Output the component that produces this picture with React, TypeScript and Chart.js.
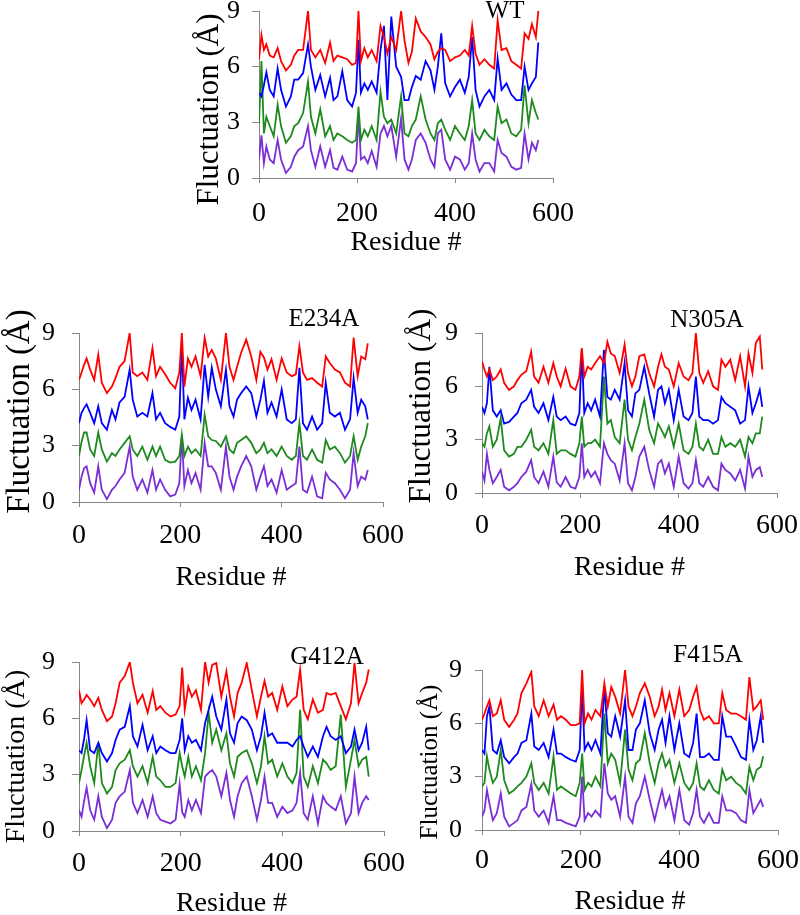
import React, { useEffect, useRef } from "react";
import { Chart, registerables } from "chart.js";

Chart.register(...registerables);

// Residue numbers shared by every panel (x values)
const residues = [
  0, 5, 10, 15, 22, 30, 38, 45, 55, 65,
  72, 80, 90, 100, 106, 115, 125, 135, 145, 152,
  160, 170, 180, 190, 198, 203, 208, 215, 222, 230,
  240, 248, 255, 262, 270, 280, 290, 297, 305, 312,
  320, 330, 340, 350, 358, 365, 372, 380, 390, 400,
  410, 420, 428, 435, 442, 450, 460, 470, 480, 487,
  495, 505, 515, 525, 535, 542, 550, 557, 565, 570,
];

const xTicks = [0, 200, 400, 600];
const yTicks = [0, 3, 6, 9];

// ---------- WT ----------
const wtRed = [
  6.4, 7.7, 6.9, 7.2, 6.6, 6.5, 7.0, 6.3, 5.8, 6.1,
  6.6, 6.9, 6.9, 9.0, 6.9, 6.5, 6.9, 6.2, 7.3, 6.3,
  6.6, 6.5, 6.4, 6.1, 6.2, 9.0, 6.3, 7.0, 6.5, 6.9,
  6.3, 8.2, 7.6, 6.7, 7.6, 6.9, 9.0, 7.4, 6.2, 6.8,
  8.6, 7.9, 7.6, 7.2, 6.4, 6.8, 7.0, 6.9, 6.3, 6.5,
  6.6, 6.9, 6.6, 8.2, 6.7, 6.1, 6.4, 6.1, 5.9, 8.5,
  6.9, 7.0, 6.3, 6.1, 5.9, 7.8, 7.5, 8.3, 7.6, 9.0,
];
const wtBlue = [
  4.6, 4.4, 5.0, 5.7, 4.75, 4.4, 5.9, 4.75, 3.85, 4.4,
  5.3, 5.3, 5.65, 7.2, 6.0, 4.75, 5.55, 4.4, 5.4, 4.2,
  4.4, 5.75, 4.2, 3.85, 4.6, 7.45, 4.6, 5.1, 4.75, 5.2,
  4.6, 6.9, 8.2, 4.2, 8.7, 6.0, 5.45, 4.2, 4.2, 4.9,
  5.5, 5.3, 6.3, 5.8, 4.75, 6.0, 7.8, 5.1, 4.4, 4.9,
  5.3, 4.6, 5.45, 7.6, 4.75, 3.85, 4.4, 4.75, 4.2, 6.45,
  4.75, 5.1, 4.5, 4.2, 4.2, 6.0, 4.75, 5.1, 5.45, 7.3,
];
const wtGreen = [
  2.95, 6.3, 2.4, 3.3, 2.8, 2.25, 3.95, 2.8, 1.9, 2.25,
  2.8, 2.95, 3.5, 5.2, 3.3, 2.4, 3.7, 2.25, 2.8, 2.05,
  2.4, 2.25, 2.05, 1.9, 2.05, 3.85, 2.05, 2.6, 2.25, 2.8,
  2.05, 4.65, 3.3, 2.95, 3.15, 2.4, 4.4, 2.4, 2.25, 2.8,
  3.15, 4.4, 3.15, 2.4, 2.05, 2.95, 3.15, 2.6, 2.05, 2.8,
  2.4, 2.05, 2.8, 4.2, 2.4, 2.05, 2.6, 2.25, 2.05, 3.85,
  2.95, 3.15, 2.4, 2.25, 2.6, 5.0, 2.95, 4.2, 3.5, 3.15,
];
const wtPurple = [
  1.0, 2.3, 0.8, 1.7, 1.0, 0.8, 2.05, 1.0, 0.27, 0.6,
  1.15, 1.5, 1.7, 2.8, 1.5, 0.6, 1.7, 0.6, 1.5, 0.55,
  0.45, 1.15, 0.45, 0.35, 0.8, 3.4, 1.0, 1.15, 0.8, 1.45,
  0.6, 2.4, 2.8, 2.25, 2.8, 1.15, 3.2, 1.0, 0.45, 1.0,
  2.05, 2.4, 1.9, 1.0, 0.6, 2.4, 2.6, 1.0, 0.45, 1.15,
  1.0, 0.45, 0.8, 2.4, 1.0, 0.35, 0.8, 0.8, 0.35, 2.05,
  1.35, 1.15, 0.6, 0.45, 0.55, 2.4, 1.0, 1.9, 1.5, 2.05,
];

// ---------- E234A ----------
const e234aRed = [
  6.5, 6.9, 7.3, 7.65, 7.05, 6.5, 7.85, 6.35, 5.8, 6.15,
  6.6, 7.2, 7.5, 9.0, 6.9, 6.7, 6.9, 6.5, 8.2, 6.7,
  7.2, 6.8, 6.35, 6.05, 6.9, 9.0, 6.15, 7.65, 7.2, 7.75,
  6.7, 8.75, 7.75, 8.1, 7.65, 6.5, 9.0, 7.2, 6.5, 7.2,
  7.95, 8.65, 7.75, 6.5, 8.0, 7.7, 7.05, 7.6, 6.5, 7.65,
  6.9, 6.7, 6.8, 8.3, 6.9, 6.5, 6.6, 6.35, 6.15, 7.75,
  7.4, 7.05, 6.9, 6.35, 6.15, 8.75, 6.7, 7.75, 7.6, 8.45,
];
const e234aBlue = [
  4.2, 4.75, 5.0, 5.2, 4.75, 4.2, 5.1, 4.2, 3.85, 4.9,
  4.4, 5.3, 5.6, 7.05, 5.45, 4.55, 4.75, 4.55, 5.8, 4.4,
  4.75, 4.2, 4.0, 3.85, 4.55, 8.4, 4.4, 5.55, 4.9, 5.45,
  4.4, 7.3, 5.6, 7.15, 6.0, 5.1, 7.05, 5.1, 4.55, 5.45,
  5.8, 6.15, 5.8, 4.55, 5.45, 6.45, 4.75, 5.3, 4.55, 6.0,
  4.4, 4.2, 4.4, 7.15, 4.2, 3.85, 4.55, 3.85, 4.2, 6.35,
  4.75, 4.55, 4.75, 3.85, 4.4, 6.6, 4.75, 5.45, 5.1, 4.4,
];
const e234aGreen = [
  2.45, 3.2, 3.7, 3.7, 2.8, 2.45, 3.7, 2.8, 2.15, 2.6,
  2.45, 2.8, 3.15, 3.5, 2.8, 2.45, 2.95, 2.25, 2.95, 2.45,
  2.95, 2.25, 2.1, 2.15, 2.45, 3.6, 2.45, 2.95, 2.6, 2.8,
  2.45, 4.65, 3.5, 3.3, 3.25, 2.95, 3.5, 2.8, 2.6, 3.15,
  3.3, 3.5, 3.15, 2.6, 2.8, 3.15, 2.6, 2.8, 2.45, 2.95,
  2.45, 2.25, 2.45, 4.2, 2.45, 2.25, 2.8, 2.25, 2.1, 3.3,
  2.8, 2.95, 2.6, 2.1, 2.45, 3.5, 2.25, 2.95, 3.5, 4.2,
];
const e234aPurple = [
  0.65, 1.35, 1.8, 1.9, 1.0, 0.5, 1.9, 0.65, 0.15, 0.65,
  0.85, 1.2, 1.55, 2.95, 1.35, 0.65, 1.2, 0.5, 1.7, 0.65,
  1.2, 0.65, 0.3, 0.4, 1.0, 3.5, 0.85, 1.7, 1.0, 1.55,
  0.65, 3.15, 1.9, 1.9, 1.55, 0.65, 2.95, 1.35, 0.65, 1.35,
  1.9, 2.45, 1.9, 0.65, 1.35, 1.9, 0.85, 1.2, 0.5, 1.7,
  0.65, 0.85, 1.0, 2.95, 0.65, 0.5, 1.35, 0.3, 0.2, 1.55,
  1.2, 1.0, 0.65, 0.2, 0.65, 2.6, 0.85, 1.35, 1.2, 1.7,
];

// ---------- N305A ----------
const n305aRed = [
  7.4, 6.95, 6.55, 6.95, 6.35, 6.55, 6.95, 6.2, 5.8, 6.0,
  6.35, 6.65, 6.85, 7.95, 6.55, 6.2, 7.1, 6.2, 7.3, 6.55,
  6.0, 7.0, 6.0, 5.8, 6.55, 8.15, 6.55, 7.1, 6.95, 7.3,
  7.7, 7.3, 8.5, 7.85, 7.7, 6.75, 8.35, 6.75, 6.0, 6.55,
  7.7, 7.8, 6.75, 6.0, 7.1, 7.8, 7.1, 6.95, 6.0, 7.3,
  6.55, 6.35, 6.75, 9.0, 6.75, 6.2, 6.85, 6.0, 5.8, 7.5,
  7.1, 7.5, 6.35, 7.7, 6.0, 7.85, 6.75, 8.45, 8.8, 6.95,
];
const n305aBlue = [
  4.85, 4.5, 5.05, 7.1, 4.65, 4.3, 4.65, 3.9, 4.0, 4.3,
  4.5, 5.05, 5.25, 5.8, 4.85, 4.5, 5.05, 4.1, 5.4, 4.3,
  4.1, 4.3, 3.9, 3.8, 4.5, 8.05, 4.5, 5.05, 4.65, 5.25,
  4.3, 8.05, 5.4, 5.25, 5.8, 5.25, 7.3, 4.65, 4.3, 5.6,
  5.8, 7.1, 5.6, 4.3, 5.8, 6.0, 5.05, 5.8, 4.1, 5.8,
  4.3, 4.1, 4.5, 6.55, 4.3, 4.1, 4.1, 3.9, 4.1, 5.4,
  5.05, 4.85, 4.65, 3.9, 4.1, 6.0, 4.5, 5.05, 5.8, 4.85,
];
const n305aGreen = [
  2.8, 2.6, 3.35, 3.75, 2.6, 3.0, 4.2, 2.4, 2.05, 2.2,
  2.6, 2.6, 3.0, 3.55, 2.6, 2.4, 2.8, 2.2, 4.1, 2.2,
  2.4, 2.4, 2.2, 2.05, 2.8, 4.3, 2.6, 2.8, 2.8, 3.0,
  2.6, 6.55, 3.9, 4.1, 3.15, 2.8, 5.25, 3.0, 2.4, 3.15,
  3.9, 5.25, 3.55, 2.8, 3.9, 3.55, 3.15, 3.75, 2.6, 3.9,
  2.4, 2.2, 2.6, 3.9, 2.6, 2.4, 3.0, 2.2, 2.2, 3.15,
  2.6, 2.8, 2.6, 3.0, 2.05, 3.15, 2.8, 3.35, 3.35, 4.3,
];
const n305aPurple = [
  1.2, 0.7, 2.2, 1.3, 0.55, 0.9, 1.3, 0.35, 0.15, 0.35,
  0.55, 0.9, 1.2, 1.85, 0.9, 0.55, 1.2, 0.35, 2.05, 0.6,
  0.35, 0.9, 0.35, 0.25, 0.9, 2.8, 0.9, 1.3, 0.9, 1.2,
  0.55, 2.8, 2.2, 1.85, 1.65, 0.7, 2.8, 0.55, 0.15, 0.9,
  2.05, 2.6, 1.3, 0.35, 1.65, 1.85, 1.1, 1.65, 0.35, 2.05,
  0.55, 0.25, 0.55, 1.85, 0.55, 0.35, 0.9, 0.35, 0.15, 1.65,
  1.3, 1.1, 0.7, 1.3, 0.25, 2.05, 0.9, 1.3, 1.45, 0.9,
];

// ---------- G412A ----------
const g412aRed = [
  7.5, 6.8, 7.0, 7.25, 7.0, 6.65, 7.1, 6.45, 5.85, 6.1,
  6.8, 7.9, 8.25, 9.0, 7.9, 6.8, 7.25, 6.3, 7.45, 6.45,
  6.65, 6.3, 6.1, 6.2, 6.65, 8.7, 6.45, 7.7, 7.15, 7.5,
  6.45, 9.0, 7.9, 8.85, 8.95, 7.15, 8.5, 7.15, 6.1, 7.35,
  7.9, 8.95, 7.5, 6.1, 7.15, 8.0, 7.15, 7.35, 6.45, 7.7,
  6.65, 7.0, 7.15, 8.6, 6.45, 5.95, 7.0, 6.3, 6.45, 7.35,
  7.25, 7.35, 6.65, 5.95, 6.8, 8.95, 6.8, 7.35, 7.9, 8.6,
];
const g412aBlue = [
  4.3, 4.15, 4.9, 5.9, 4.3, 4.15, 4.7, 4.15, 3.7, 4.15,
  4.85, 5.4, 5.55, 6.65, 5.05, 4.5, 5.65, 4.3, 5.05, 4.15,
  4.5, 4.3, 4.15, 4.15, 4.85, 6.0, 4.3, 5.05, 4.7, 4.85,
  4.3, 5.75, 6.45, 7.15, 6.1, 5.4, 7.0, 5.2, 4.7, 5.75,
  6.1, 5.9, 5.4, 4.3, 5.05, 6.3, 5.05, 5.2, 4.7, 4.7,
  4.7, 4.5, 4.85, 5.05, 4.5, 3.95, 4.5, 3.95, 5.05, 5.55,
  5.05, 4.85, 5.05, 4.15, 4.5, 5.4, 4.3, 4.7, 5.55, 4.3,
];
const g412aGreen = [
  2.55, 3.25, 4.0, 4.7, 3.45, 2.55, 4.7, 2.55, 2.0, 2.35,
  3.25, 3.6, 3.8, 4.3, 3.45, 2.9, 3.45, 2.55, 3.95, 2.9,
  2.7, 2.35, 2.35, 2.55, 4.15, 3.45, 2.9, 3.95, 2.9, 3.45,
  2.7, 4.15, 6.3, 4.7, 5.4, 4.3, 5.2, 3.6, 2.9, 3.95,
  4.15, 4.3, 3.6, 2.55, 3.45, 5.05, 3.6, 3.8, 2.9, 3.6,
  2.9, 2.55, 3.1, 6.45, 2.9, 2.35, 3.45, 2.55, 3.8, 3.6,
  3.25, 3.45, 6.2, 2.35, 3.8, 4.85, 3.45, 3.8, 3.95, 2.9,
];
const g412aPurple = [
  1.1, 0.75, 1.6, 2.3, 1.1, 0.6, 1.85, 0.75, 0.15, 0.6,
  1.5, 1.85, 2.1, 3.25, 1.5, 0.95, 1.65, 0.75, 1.85, 0.95,
  0.6, 0.5, 0.4, 0.6, 2.5, 1.0, 0.75, 1.65, 1.1, 1.65,
  0.95, 2.9, 3.1, 3.25, 2.9, 1.85, 3.1, 1.65, 0.75, 1.85,
  2.55, 2.9, 1.85, 0.6, 1.65, 2.9, 1.5, 1.5, 0.75, 1.3,
  0.95, 1.1, 1.5, 3.1, 0.95, 0.6, 1.85, 0.4, 1.85, 1.5,
  1.3, 1.1, 1.85, 0.4, 0.95, 2.9, 0.95, 1.5, 1.85, 1.65,
];

// ---------- F415A ----------
const f415aRed = [
  6.2, 6.55, 6.95, 7.3, 6.4, 6.55, 7.3, 6.2, 5.8, 6.2,
  6.55, 7.7, 8.25, 8.9, 6.95, 6.4, 7.3, 6.4, 7.05, 6.2,
  6.4, 6.2, 5.9, 5.9, 6.0, 9.0, 6.0, 6.55, 6.2, 6.75,
  6.4, 8.25, 6.95, 8.05, 7.5, 6.55, 9.0, 6.95, 6.4, 6.95,
  7.7, 8.25, 7.5, 6.4, 6.95, 7.9, 6.75, 7.7, 6.4, 7.9,
  6.4, 6.75, 7.5, 8.05, 6.75, 6.2, 6.4, 6.0, 6.0, 7.7,
  6.75, 6.55, 6.55, 6.4, 6.2, 8.6, 6.75, 6.95, 7.3, 6.2,
];
const f415aBlue = [
  4.5, 4.3, 6.4, 6.95, 4.5, 4.3, 5.05, 4.1, 3.75, 4.1,
  4.3, 4.9, 5.05, 6.55, 4.7, 4.5, 4.9, 4.1, 5.65, 4.3,
  4.3, 4.1, 3.95, 3.85, 4.5, 7.95, 4.5, 4.9, 4.5, 5.05,
  4.3, 8.05, 5.45, 5.25, 6.4, 5.25, 7.3, 4.5, 4.5, 5.65,
  6.0, 7.3, 5.45, 4.5, 5.65, 6.2, 4.9, 6.4, 4.5, 6.0,
  4.3, 4.1, 4.9, 6.55, 4.1, 4.1, 4.3, 3.95, 3.95, 6.4,
  5.25, 5.25, 4.7, 4.1, 3.95, 6.2, 4.5, 5.05, 6.4, 4.9,
];
const f415aGreen = [
  2.45, 2.65, 4.15, 3.4, 2.65, 3.0, 4.5, 2.8, 2.05, 2.25,
  2.45, 2.65, 3.0, 3.75, 2.65, 2.25, 2.65, 2.05, 4.15, 2.25,
  2.45, 2.25, 2.05, 1.9, 2.65, 4.3, 2.25, 2.65, 2.45, 3.0,
  2.45, 6.55, 3.75, 4.3, 3.95, 2.65, 5.65, 3.4, 2.8, 3.75,
  3.95, 5.45, 3.75, 2.65, 3.75, 4.3, 3.55, 3.95, 2.65, 3.75,
  2.65, 2.25, 2.65, 3.75, 2.45, 2.25, 2.8, 2.25, 2.05, 3.4,
  2.8, 3.0, 2.65, 2.45, 2.05, 3.55, 2.8, 3.4, 3.55, 4.15,
];
const f415aPurple = [
  0.75, 1.1, 2.25, 1.5, 0.55, 0.95, 2.05, 0.75, 0.2, 0.4,
  0.55, 1.1, 1.3, 2.6, 1.1, 0.75, 1.1, 0.4, 1.9, 0.55,
  0.55, 0.4, 0.3, 0.2, 0.75, 3.0, 0.55, 0.95, 0.75, 1.1,
  0.75, 3.75, 2.05, 1.7, 1.9, 0.75, 3.0, 0.75, 0.4, 1.5,
  1.9, 3.0, 1.7, 0.55, 1.5, 2.25, 1.3, 1.9, 0.55, 2.25,
  0.55, 0.3, 0.95, 2.25, 0.75, 0.4, 0.95, 0.4, 0.4, 1.9,
  1.1, 1.1, 0.95, 0.55, 0.4, 2.25, 0.95, 1.3, 1.7, 1.3,
];

const seriesColors = ["#ff0000", "#0000ff", "#1e8a1e", "#7a2fd6"];
const FONT = '"Liberation Serif", "Times New Roman", serif';
const AXIS = "#878787";

type PanelCfg = {
  name: string;
  series: number[][];
  axisLeft: number;
  axisRight: number;
  plotTop: number;
  plotBottom: number;
  canvasLeft: number;
  xTitleH: number;
  xTickPad: number;
  yTickPad: number;
  yTitleDx: number;
  yTitleDy: number;
  yTitleSize: number;
  titleDx: number;
  titleDy: number;
};

const TOP_PAD = 40;
const RIGHT_PAD = 30;

const panels: PanelCfg[] = [
  {
    name: "WT", series: [wtRed, wtBlue, wtGreen, wtPurple],
    axisLeft: 259, axisRight: 558, plotTop: 11, plotBottom: 178, canvasLeft: 190,
    xTitleH: 81, xTickPad: 14, yTickPad: 12, yTitleDx: 49, yTitleDy: 15, yTitleSize: 31,
    titleDx: 246, titleDy: 0,
  },
  {
    name: "E234A", series: [e234aRed, e234aBlue, e234aGreen, e234aPurple],
    axisLeft: 79, axisRight: 386, plotTop: 333, plotBottom: 502, canvasLeft: 0,
    xTitleH: 92, xTickPad: 12, yTickPad: 17, yTitleDx: 59, yTitleDy: -6, yTitleSize: 33,
    titleDx: 245, titleDy: -14,
  },
  {
    name: "N305A", series: [n305aRed, n305aBlue, n305aGreen, n305aPurple],
    axisLeft: 482, axisRight: 779, plotTop: 333, plotBottom: 493, canvasLeft: 400,
    xTitleH: 91, xTickPad: 11, yTickPad: 17, yTitleDx: 60, yTitleDy: -7, yTitleSize: 31.5,
    titleDx: 225, titleDy: -13,
  },
  {
    name: "G412A", series: [g412aRed, g412aBlue, g412aGreen, g412aPurple],
    axisLeft: 79, axisRight: 386, plotTop: 662, plotBottom: 831, canvasLeft: 0,
    xTitleH: 89, xTickPad: 11, yTickPad: 17, yTitleDx: 62, yTitleDy: 10, yTitleSize: 28,
    titleDx: 248, titleDy: -5,
  },
  {
    name: "F415A", series: [f415aRed, f415aBlue, f415aGreen, f415aPurple],
    axisLeft: 482, axisRight: 778, plotTop: 670, plotBottom: 830, canvasLeft: 400,
    xTitleH: 88, xTickPad: 9, yTickPad: 13, yTitleDx: 52, yTitleDy: 12, yTitleSize: 25,
    titleDx: 226, titleDy: -15,
  },
];

function Panel({ cfg }: { cfg: PanelCfg }) {
  const ref = useRef<HTMLCanvasElement | null>(null);
  const width = cfg.axisRight - cfg.canvasLeft + RIGHT_PAD;
  const height = TOP_PAD + (cfg.plotBottom - cfg.plotTop) + cfg.xTitleH;
  const yAxisW = cfg.axisLeft - cfg.canvasLeft;

  useEffect(() => {
    if (!ref.current) return;
    const overlay = {
      id: "overlay_" + cfg.name,
      afterDraw(chart: any) {
        const { ctx, chartArea } = chart;
        ctx.save();
        ctx.fillStyle = "#000";
        // panel title
        ctx.font = `25px ${FONT}`;
        ctx.textAlign = "center";
        ctx.textBaseline = "middle";
        ctx.fillText(cfg.name, chartArea.left + cfg.titleDx, chartArea.top + cfg.titleDy);
        // y-axis title
        ctx.translate(chartArea.left - cfg.yTitleDx, (chartArea.top + chartArea.bottom) / 2 + cfg.yTitleDy);
        ctx.rotate(-Math.PI / 2);
        ctx.font = `${cfg.yTitleSize}px ${FONT}`;
        ctx.fillText("Fluctuation (Å)", 0, 0);
        ctx.restore();
      },
    };
    const chart = new Chart(ref.current, {
      type: "line",
      data: {
        datasets: cfg.series.map((vals, i) => ({
          data: residues.map((r, j) => ({ x: r, y: vals[j] })),
          borderColor: seriesColors[i],
          backgroundColor: seriesColors[i],
          borderWidth: 1.8,
          pointRadius: 0,
          tension: 0,
          fill: false,
        })),
      },
      options: {
        responsive: false,
        animation: false,
        events: [],
        layout: { padding: { left: 0, right: RIGHT_PAD, top: TOP_PAD, bottom: 0 } },
        plugins: { legend: { display: false }, tooltip: { enabled: false }, title: { display: false } },
        scales: {
          x: {
            type: "linear",
            min: xTicks[0],
            max: xTicks[xTicks.length - 1],
            afterBuildTicks: (s: any) => { s.ticks = xTicks.map((v) => ({ value: v })); },
            ticks: { color: "#000", font: { family: FONT, size: 28 }, padding: cfg.xTickPad, maxRotation: 0, autoSkip: false },
            grid: { drawOnChartArea: false, drawTicks: true, tickLength: 5, color: AXIS, lineWidth: 1 },
            border: { display: true, color: AXIS, width: 1 },
            title: { display: true, text: "Residue #", color: "#000", font: { family: FONT, size: 28 }, padding: 0 },
            afterFit: (s: any) => { s.height = cfg.xTitleH; },
          },
          y: {
            type: "linear",
            min: yTicks[0],
            max: yTicks[yTicks.length - 1],
            afterBuildTicks: (s: any) => { s.ticks = yTicks.map((v) => ({ value: v })); },
            ticks: { color: "#000", font: { family: FONT, size: 26 }, padding: cfg.yTickPad },
            grid: { drawOnChartArea: false, drawTicks: true, tickLength: 7, color: AXIS, lineWidth: 1 },
            border: { display: true, color: AXIS, width: 1 },
            afterFit: (s: any) => { s.width = yAxisW; },
          },
        },
      },
      plugins: [overlay],
    } as any);
    return () => chart.destroy();
  }, [cfg]);

  return (
    <canvas
      ref={ref}
      width={width}
      height={height}
      style={{ position: "absolute", left: cfg.canvasLeft, top: cfg.plotTop - TOP_PAD, width, height }}
    />
  );
}

export default function App() {
  return (
    <div style={{ position: "absolute", left: 0, top: 0, width: 800, height: 915, overflow: "hidden", background: "#fff" }}>
      {panels.map((p) => (
        <Panel key={p.name} cfg={p} />
      ))}
    </div>
  );
}
